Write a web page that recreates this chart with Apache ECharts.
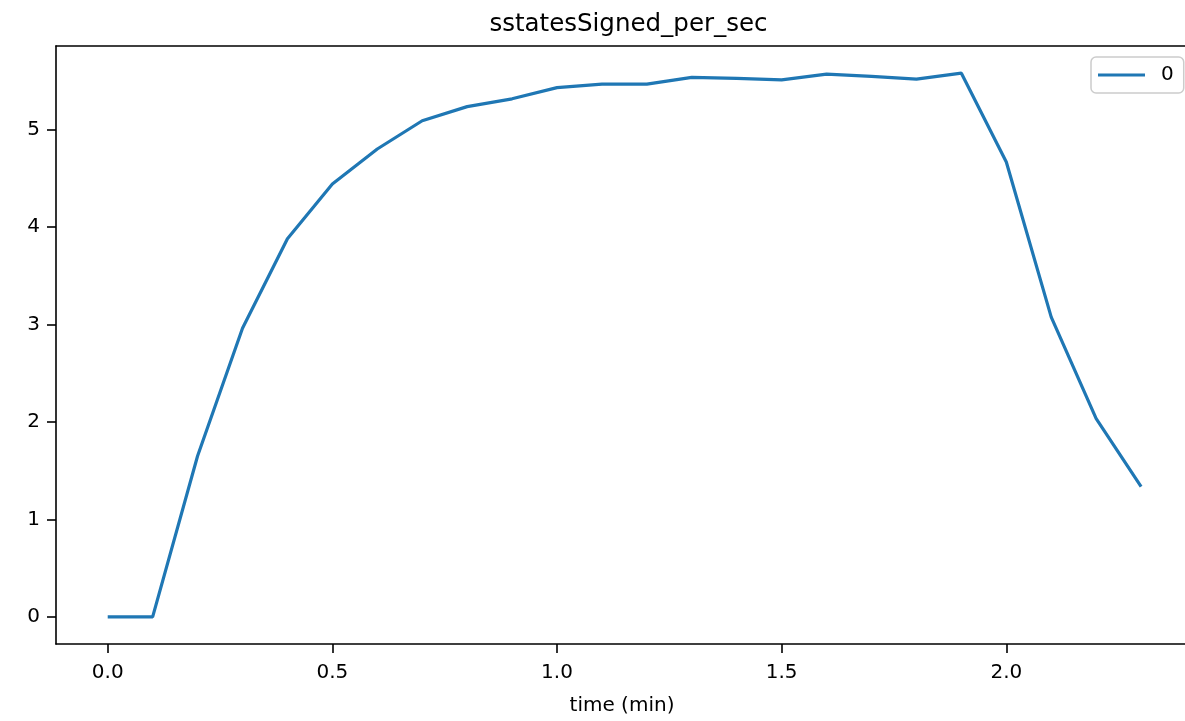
<!DOCTYPE html>
<html>
<head>
<meta charset="utf-8">
<script src="https://cdn.jsdelivr.net/npm/echarts@6/dist/echarts.min.js"></script>
<style>
html,body{margin:0;padding:0;background:#fff;}
#chart{width:1185px;height:721px;}
</style>
</head>
<body>
<div id="chart"></div>
<script>
const times = [0.0, 0.1, 0.2, 0.3, 0.4, 0.5, 0.6, 0.7, 0.8, 0.9, 1.0, 1.1, 1.2, 1.3, 1.4, 1.5, 1.6, 1.7, 1.8, 1.9, 2.0, 2.1, 2.2, 2.3];
const values = [0, 0, 1.65, 2.96, 3.88, 4.44, 4.80, 5.09, 5.235, 5.315, 5.43, 5.465, 5.465, 5.535, 5.525, 5.51, 5.568, 5.545, 5.517, 5.578, 4.667, 3.075, 2.034, 1.335];
const xTicks = [0.0, 0.5, 1.0, 1.5, 2.0];
const yTicks = [0, 1, 2, 3, 4, 5];
const seriesName = '0';
const titleText = 'sstatesSigned_per_sec';
const xLabel = 'time (min)';

const FONT = 'DejaVu Sans';
const chart = echarts.init(document.getElementById('chart'), null, {renderer: 'canvas'});
const xMin = -0.1151, xMax = 2.3977;
const yMin = -0.2789, yMax = 5.8569;

chart.setOption({
  animation: false,
  backgroundColor: '#ffffff',
  title: {
    text: titleText,
    left: 623.5,
    textAlign: 'center',
    top: 7,
    textStyle: {fontFamily: FONT, fontSize: 24.5, fontWeight: 'normal', color: '#000'}
  },
  legend: {
    data: [seriesName],
    left: 1091,
    top: 57,
    orient: 'vertical',
    backgroundColor: 'rgba(255,255,255,0.8)',
    borderColor: '#cccccc',
    borderWidth: 1.5,
    borderRadius: 5,
    padding: [8, 10, 8, 7],
    itemWidth: 47,
    itemHeight: 3,
    icon: 'rect',
    textStyle: {fontFamily: FONT, fontSize: 20, color: '#000', padding: [0, 0, 0, 11]}
  },
  grid: {
    left: 56, right: 0, top: 46, bottom: 76,
    show: false
  },
  xAxis: [{
    type: 'value',
    position: 'bottom',
    min: xMin, max: xMax,
    name: xLabel,
    nameLocation: 'middle',
    nameGap: 52,
    nameTextStyle: {fontFamily: FONT, fontSize: 20, color: '#000', padding: [0, 0, 0, 3]},
    splitLine: {show: false},
    axisLine: {show: true, onZero: false, lineStyle: {color: '#000', width: 1.6}},
    axisTick: {show: true, inside: false, length: 9, lineStyle: {color: '#000', width: 1.6}, customValues: xTicks},
    axisLabel: {
      fontFamily: FONT, fontSize: 20, color: '#000', margin: 19,
      customValues: xTicks,
      formatter: v => v.toFixed(1)
    }
  }, {
    type: 'value',
    position: 'top',
    min: xMin, max: xMax,
    splitLine: {show: false},
    axisLine: {show: true, onZero: false, lineStyle: {color: '#000', width: 1.6}},
    axisTick: {show: false},
    axisLabel: {show: false}
  }],
  yAxis: {
    type: 'value',
    min: yMin, max: yMax,
    splitLine: {show: false},
    axisLine: {show: true, onZero: false, lineStyle: {color: '#000', width: 1.6}},
    axisTick: {show: true, inside: false, length: 9, lineStyle: {color: '#000', width: 1.6}, customValues: yTicks},
    axisLabel: {
      fontFamily: FONT, fontSize: 20, color: '#000', margin: 16,
      customValues: yTicks,
      formatter: v => String(Math.round(v))
    }
  },
  series: [{
    name: seriesName,
    type: 'line',
    xAxisIndex: 0,
    data: times.map((t, i) => [t, values[i]]),
    showSymbol: false,
    symbol: 'none',
    lineStyle: {color: '#1f77b4', width: 3.2},
    itemStyle: {color: '#1f77b4'},
    z: 3
  }]
});
</script>
</body>
</html>
